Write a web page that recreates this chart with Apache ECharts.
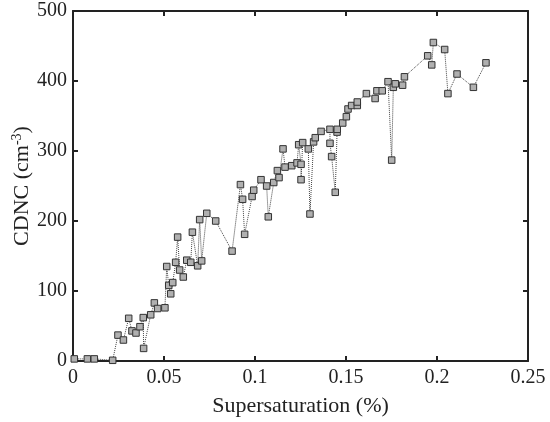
<!DOCTYPE html>
<html>
<head>
<meta charset="utf-8">
<script src="https://cdn.jsdelivr.net/npm/echarts@6/dist/echarts.min.js"></script>
<style>html,body{margin:0;padding:0;background:#fff;}#chart{width:550px;height:422px;}</style>
</head>
<body>
<div id="chart"></div>
<script>
const supersaturation = [0.0007,0.0079,0.0117,0.0218,0.0247,0.0277,0.0306,0.0324,0.0346,0.0368,0.0386,0.0388,0.0427,0.0447,0.0465,0.0505,0.0515,0.0526,0.0537,0.0548,0.0564,0.0575,0.0586,0.0606,0.0625,0.0647,0.0656,0.0685,0.0696,0.0707,0.0735,0.0784,0.0874,0.0920,0.0932,0.0943,0.0984,0.0993,0.1033,0.1064,0.1073,0.1103,0.1123,0.1132,0.1154,0.1165,0.1202,0.1231,0.1240,0.1253,0.1253,0.1262,0.1293,0.1302,0.1322,0.1331,0.1363,0.1412,0.1412,0.1421,0.1441,0.1451,0.1452,0.1482,0.1502,0.1511,0.1531,0.1562,0.1562,0.1612,0.1660,0.1670,0.1699,0.1731,0.1751,0.1760,0.1771,0.1811,0.1821,0.1949,0.1971,0.1980,0.2042,0.2060,0.2110,0.2200,0.2269];
const cdnc = [3,3,3,1,37,30,61,43,40,49,62,18,66,83,75,76,135,108,96,112,141,177,130,120,144,141,184,136,202,143,211,200,157,252,231,181,235,244,259,250,206,255,272,262,303,277,279,283,309,281,259,312,303,210,313,319,328,331,311,292,241,327,331,340,349,360,365,365,370,382,375,386,386,399,287,391,396,394,406,436,423,455,445,382,410,391,426];
const xTicks = {min: 0, max: 0.25, interval: 0.05};
const yTicks = {min: 0, max: 500, interval: 100};

const points = supersaturation.map((x, i) => [x, cdnc[i]]);
const font = 'Liberation Serif';
const axisLine = {show: true, onZero: false, lineStyle: {color: '#222', width: 2}};
const axisTick = {show: true, inside: true, length: 5, lineStyle: {color: '#222', width: 2}};

const chart = echarts.init(document.getElementById('chart'));
chart.setOption({
  animation: false,
  backgroundColor: '#fff',
  grid: {left: 73, right: 22, top: 11, bottom: 61, containLabel: false, outerBoundsMode: 'none'},
  xAxis: [{
    type: 'value', position: 'bottom', min: xTicks.min, max: xTicks.max, interval: xTicks.interval,
    axisLine: axisLine, axisTick: axisTick, splitLine: {show: false},
    axisLabel: {fontFamily: font, fontSize: 20, color: '#222', margin: 7},
    name: 'Supersaturation (%)', nameLocation: 'middle', nameGap: 34, nameMoveOverlap: false,
    nameTextStyle: {fontFamily: font, fontSize: 22, color: '#222'}
  }, {
    type: 'value', position: 'top', min: xTicks.min, max: xTicks.max, interval: xTicks.interval,
    axisLine: axisLine, axisTick: axisTick, splitLine: {show: false}, axisLabel: {show: false}
  }],
  yAxis: [{
    type: 'value', position: 'left', min: yTicks.min, max: yTicks.max, interval: yTicks.interval,
    axisLine: axisLine, axisTick: axisTick, splitLine: {show: false},
    axisLabel: {fontFamily: font, fontSize: 20, color: '#222', margin: 6},
    name: 'CDNC (cm{sup|-3})', nameLocation: 'middle', nameGap: 39, nameMoveOverlap: false,
    nameTextStyle: {fontFamily: font, fontSize: 22, color: '#222',
      rich: {sup: {fontFamily: font, fontSize: 14, color: '#222', verticalAlign: 'top', padding: [0, 0, 10, 0]}}}
  }, {
    type: 'value', position: 'right', min: yTicks.min, max: yTicks.max, interval: yTicks.interval,
    axisLine: axisLine, axisTick: axisTick, splitLine: {show: false}, axisLabel: {show: false}
  }],
  series: [{
    type: 'line', xAxisIndex: 0, yAxisIndex: 0, data: points,
    symbol: 'rect', symbolSize: 6.5,
    lineStyle: {color: '#444', width: 1, type: 'dotted'},
    itemStyle: {color: '#b0b0b0', borderColor: '#333', borderWidth: 1}
  }]
});
</script>
</body>
</html>
